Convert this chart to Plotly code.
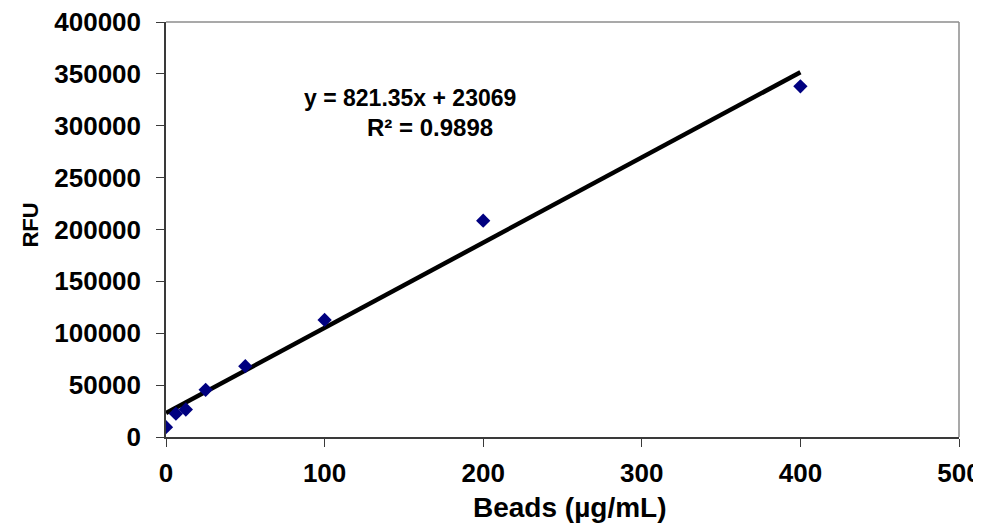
import plotly.graph_objects as go

beads = [0, 6.25, 12.5, 25, 50, 100, 200, 400]
rfu = [9500, 22500, 26500, 45500, 68300, 112800, 208500, 338000]
slope = 821.35
intercept = 23069
trend_x = [0, 400]
trend_y = [slope * x + intercept for x in trend_x]
x_ticks = [0, 100, 200, 300, 400, 500]
y_ticks = [0, 50000, 100000, 150000, 200000, 250000, 300000, 350000, 400000]

font_family = "Liberation Sans, Arial, sans-serif"

fig = go.Figure()
fig.add_trace(go.Scatter(x=trend_x, y=trend_y, mode="lines",
                         line=dict(color="black", width=4.5), showlegend=False))
fig.add_trace(go.Scatter(x=beads, y=rfu, mode="markers",
                         marker=dict(symbol="diamond", color="#000080", size=11),
                         showlegend=False))

fig.add_annotation(x=153.8, y=326800, text="y = 821.35x + 23069", showarrow=False,
                   xanchor="center", yanchor="middle",
                   font=dict(family=font_family, size=23, color="black", weight="bold"))
fig.add_annotation(x=166.7, y=297960, text="R² = 0.9898", showarrow=False,
                   xanchor="center", yanchor="middle",
                   font=dict(family=font_family, size=24, color="black", weight="bold"))

fig.add_annotation(xref="paper", yref="paper", x=0.5085, y=-0.1697,
                   text="Beads (µg/mL)", showarrow=False, xanchor="center", yanchor="middle",
                   font=dict(family=font_family, size=28, color="black", weight="bold"))
fig.add_annotation(xref="paper", yref="paper", x=-0.1705, y=0.5114,
                   text="RFU", showarrow=False, textangle=-90, xanchor="center", yanchor="middle",
                   font=dict(family=font_family, size=22, color="black", weight="bold"))

# grey plot-area border on top and right
fig.add_shape(type="line", xref="paper", yref="paper", x0=0, x1=1, y0=1, y1=1,
              line=dict(color="#8c8c8c", width=1.5))
fig.add_shape(type="line", xref="paper", yref="paper", x0=1, x1=1, y0=0, y1=1,
              line=dict(color="#8c8c8c", width=1.5))

axis_common = dict(showgrid=False, zeroline=False, showline=True, linecolor="#3a3a3a",
                   linewidth=1.5, mirror=False, ticks="outside", ticklen=8,
                   tickcolor="#3a3a3a", tickwidth=1, automargin=False,
                   ticklabeloverflow="allow",
                   tickfont=dict(family=font_family, size=26, color="black", weight="bold"))

fig.update_xaxes(range=[0, 500], tickvals=x_ticks, tickformat="d",
                 ticklabelstandoff=4, **axis_common)
fig.update_yaxes(range=[0, 400000], tickvals=y_ticks, tickformat="d",
                 ticklabelstandoff=10, **axis_common)

# page body has an 8px margin; size the figure so the plot area lands where the reference has it
fig.update_layout(width=973, height=516, plot_bgcolor="white", paper_bgcolor="white",
                  margin=dict(l=157.5, r=22, t=14, b=86.5))

fig.write_html("out.html")
